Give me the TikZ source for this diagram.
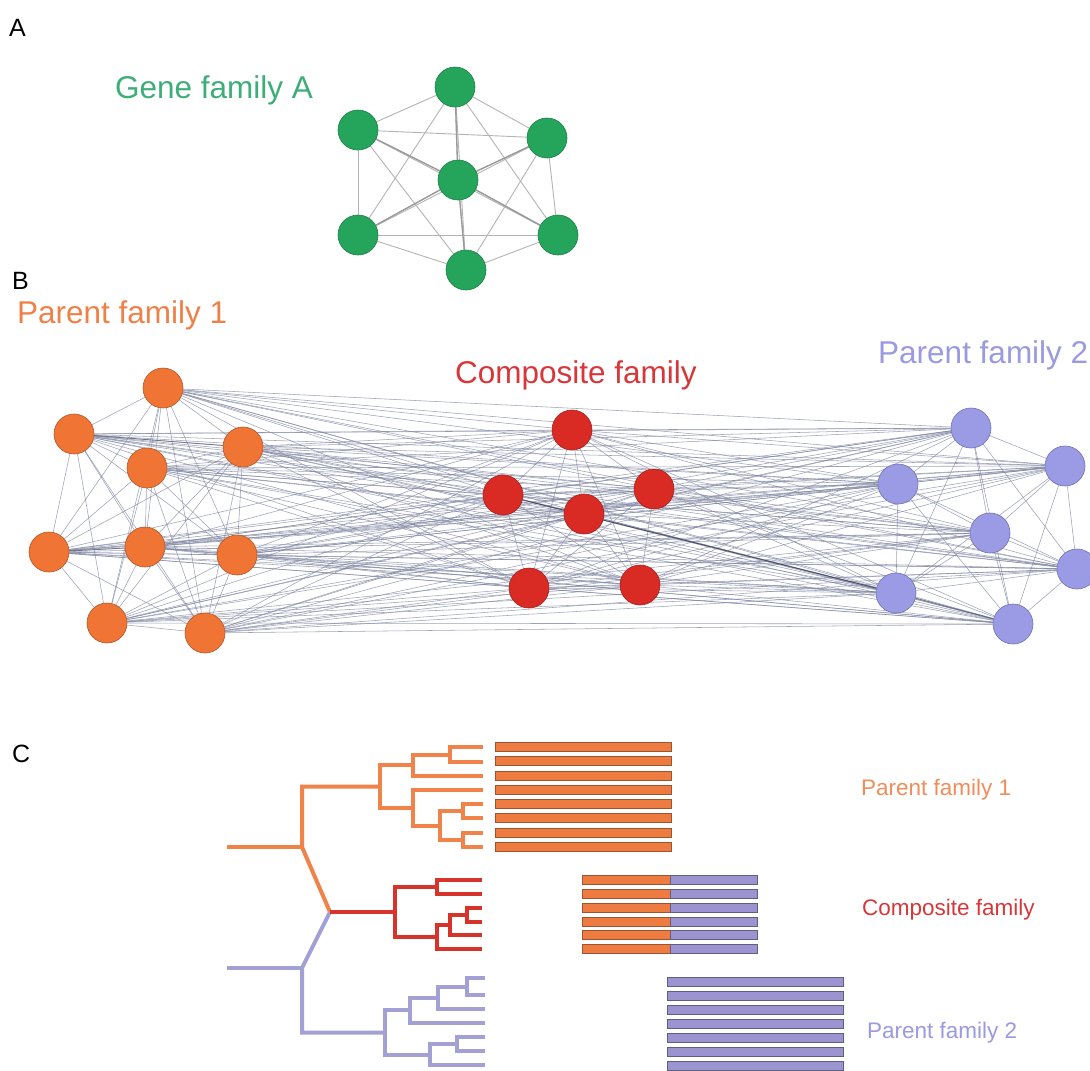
\documentclass[tikz,border=0pt]{standalone}
\usepackage{fontspec}
\setmainfont{Liberation Sans}
\definecolor{gfill}{HTML}{24A55B}
\definecolor{gline}{HTML}{1C7F46}
\definecolor{gtext}{HTML}{3DAE78}
\definecolor{ofill}{HTML}{F07534}
\definecolor{oline}{HTML}{B0552A}
\definecolor{otext}{HTML}{EE8048}
\definecolor{rfill}{HTML}{D92B23}
\definecolor{rline}{HTML}{A02020}
\definecolor{rtext}{HTML}{D8373A}
\definecolor{pfill}{HTML}{9B9BE5}
\definecolor{pline}{HTML}{7070B0}
\definecolor{ptext}{HTML}{9A9AE0}
\definecolor{aedgec}{HTML}{B4B4B4}
\definecolor{aedged}{HTML}{999999}
\definecolor{bedgec}{HTML}{7E84A0}
\definecolor{bedged}{HTML}{4A4E66}
\definecolor{otree}{HTML}{F0834A}
\definecolor{rtree}{HTML}{D6332B}
\definecolor{ptree}{HTML}{A3A0D6}
\definecolor{obar}{HTML}{EE7B40}
\definecolor{obarl}{HTML}{9C5530}
\definecolor{pbar}{HTML}{9C94D0}
\definecolor{pbarl}{HTML}{5F5F80}
\pgfdeclarelayer{back}
\pgfdeclarelayer{bg}
\pgfsetlayers{back,bg,main}
\begin{document}
\begin{tikzpicture}[x=1pt,y=-1pt,
  vert/.style={circle,minimum size=40pt,inner sep=0pt,line width=0.6pt},
  gnode/.style={vert,fill=gfill,draw=gline},
  onode/.style={vert,fill=ofill,draw=oline},
  rnode/.style={vert,fill=rfill,draw=rline},
  pnode/.style={vert,fill=pfill,draw=pline},
  aedge/.style={draw=aedgec,line width=0.9pt},
  aedgeb/.style={draw=aedged,line width=1.3pt},
  bedge/.style={draw=bedgec,line width=0.55pt,opacity=0.75},
  bedgeb/.style={draw=bedged,line width=0.9pt},
  panel/.style={anchor=base west,inner sep=0pt,font=\fontsize{25}{28}\selectfont},
  biglab/.style={anchor=base west,inner sep=0pt,font=\fontsize{31.5}{36}\selectfont},
  smalllab/.style={anchor=base west,inner sep=0pt,font=\fontsize{22.5}{26}\selectfont},
  tree/.style={line width=4pt,line join=miter},
  obarst/.style={fill=obar,draw=obarl,line width=0.8pt},
  pbarst/.style={fill=pbar,draw=pbarl,line width=0.8pt},
]
\useasboundingbox (0,0) rectangle (1090,1071);
\clip (0,0) rectangle (1090,1071);
\begin{pgfonlayer}{back}
\fill[white] (0,0) rectangle (1090,1071);
\end{pgfonlayer}

% ---------- Panel labels ----------
\node[panel] (pa) at (9,36) {A};
\node[panel] (pb) at (12,289) {B};
\node[panel] (pc) at (12,762) {C};

% ---------- Panel A ----------
\node[biglab,text=gtext] (tA) at (115,98) {Gene family A};
\node[gnode] (g1) at (455,87) {};
\node[gnode] (g2) at (358,130) {};
\node[gnode] (g3) at (547,138) {};
\node[gnode] (g4) at (458,180) {};
\node[gnode] (g5) at (358,235) {};
\node[gnode] (g6) at (558,235) {};
\node[gnode] (g7) at (466,270) {};
\begin{pgfonlayer}{bg}
\foreach \i in {1,...,6} {
  \pgfmathtruncatemacro\s{\i+1}
  \foreach \j in {\s,...,7} { \draw[aedge] (g\i) -- (g\j); }
}
\foreach \j in {1,2,3,5,6,7} { \draw[aedgeb] (g4) -- (g\j); }
\end{pgfonlayer}

% ---------- Panel B ----------
\node[biglab,text=otext] (tP1) at (17,323) {Parent family 1};
\node[biglab,text=rtext] (tC) at (455,383) {Composite family};
\node[biglab,text=ptext] (tP2) at (878,363) {Parent family 2};

\node[onode] (o1) at (163,388) {};
\node[onode] (o2) at (74,434) {};
\node[onode] (o3) at (243,447) {};
\node[onode] (o4) at (147,468) {};
\node[onode] (o5) at (49,552) {};
\node[onode] (o6) at (145,547) {};
\node[onode] (o7) at (237,555) {};
\node[onode] (o8) at (107,623) {};
\node[onode] (o9) at (205,633) {};

\node[rnode] (r1) at (572,430) {};
\node[rnode] (r2) at (503,495) {};
\node[rnode] (r3) at (654,489) {};
\node[rnode] (r4) at (584,514) {};
\node[rnode] (r5) at (529,588) {};
\node[rnode] (r6) at (640,585) {};

\node[pnode] (p1) at (971,428) {};
\node[pnode] (p2) at (1065,466) {};
\node[pnode] (p3) at (898,484) {};
\node[pnode] (p4) at (990,533) {};
\node[pnode] (p5) at (1077,569) {};
\node[pnode] (p6) at (896,593) {};
\node[pnode] (p7) at (1013,624) {};

\begin{pgfonlayer}{bg}
\foreach \i in {1,...,8} {
  \pgfmathtruncatemacro\s{\i+1}
  \foreach \j in {\s,...,9} { \draw[bedge] (o\i) -- (o\j); }
}
\foreach \i in {1,...,5} {
  \pgfmathtruncatemacro\s{\i+1}
  \foreach \j in {\s,...,6} { \draw[bedge] (r\i) -- (r\j); }
}
\foreach \i in {1,...,6} {
  \pgfmathtruncatemacro\s{\i+1}
  \foreach \j in {\s,...,7} { \draw[bedge] (p\i) -- (p\j); }
}
\foreach \i in {1,...,9} {
  \foreach \j in {1,...,6} { \draw[bedge] (o\i) -- (r\j); }
  \foreach \j in {1,...,7} { \draw[bedge] (o\i) -- (p\j); }
}
\foreach \i in {1,...,6} {
  \foreach \j in {1,...,7} { \draw[bedge] (r\i) -- (p\j); }
}
\draw[bedgeb] (r2) -- (p6);
\draw[bedgeb,opacity=0.6] (o5) -- (o6);
\draw[bedgeb,opacity=0.6] (o2) -- (o3);
\draw[bedgeb,opacity=0.6] (p6) -- (p7);
\end{pgfonlayer}

% ---------- Panel C : tree ----------
% orange parent family 1
\draw[tree,otree] (483,747) -- (450,747) -- (450,762) -- (483,762);
\draw[tree,otree] (450,754.5) -- (413,754.5) -- (413,776) -- (483,776);
\draw[tree,otree] (483,804) -- (463,804) -- (463,818) -- (483,818);
\draw[tree,otree] (483,833) -- (463,833) -- (463,847) -- (483,847);
\draw[tree,otree] (463,811) -- (440,811) -- (440,840) -- (463,840);
\draw[tree,otree] (483,790) -- (413,790) -- (413,825.5) -- (440,825.5);
\draw[tree,otree] (413,765.25) -- (380,765.25) -- (380,807.75) -- (413,807.75);
\draw[tree,otree] (380,786.5) -- (302,786.5) -- (302,847) -- (330,912);
\draw[tree,otree] (227,847) -- (302,847);
% purple parent family 2
\draw[tree,ptree] (485,978) -- (467,978) -- (467,995) -- (485,995);
\draw[tree,ptree] (467,986.5) -- (438,986.5) -- (438,1009) -- (485,1009);
\draw[tree,ptree] (438,997.75) -- (410,997.75) -- (410,1023) -- (485,1023);
\draw[tree,ptree] (485,1037) -- (457,1037) -- (457,1051) -- (485,1051);
\draw[tree,ptree] (457,1044) -- (430,1044) -- (430,1065) -- (485,1065);
\draw[tree,ptree] (410,1010.4) -- (385,1010.4) -- (385,1054.5) -- (430,1054.5);
\draw[tree,ptree] (385,1032.5) -- (302,1032.5) -- (302,968) -- (330,912);
\draw[tree,ptree] (227,968) -- (302,968);
% red composite family
\draw[tree,rtree] (482,880) -- (437,880) -- (437,894) -- (482,894);
\draw[tree,rtree] (482,908) -- (467,908) -- (467,922) -- (482,922);
\draw[tree,rtree] (467,915) -- (450,915) -- (450,935) -- (482,935);
\draw[tree,rtree] (450,925) -- (437,925) -- (437,949) -- (482,949);
\draw[tree,rtree] (437,887) -- (395,887) -- (395,937) -- (437,937);
\draw[tree,rtree] (330,912) -- (395,912);

% ---------- Panel C : bars ----------
\foreach \y in {747,761,776,790,804,818,833,847} {
  \draw[obarst] (495,\y-4.5) rectangle (671,\y+4.5);
}
\foreach \y in {880,894,908,922,935,949} {
  \draw[obarst] (582,\y-4.5) rectangle (670,\y+4.5);
  \draw[pbarst] (670,\y-4.5) rectangle (757,\y+4.5);
}
\foreach \y in {982,996,1010,1024,1038,1052,1066} {
  \draw[pbarst] (667,\y-4.5) rectangle (843,\y+4.5);
}

\node[smalllab,text=otext!90!white] (cP1) at (861,795) {Parent family 1};
\node[smalllab,text=rtext] (cC) at (862,915) {Composite family};
\node[smalllab,text=ptext] (cP2) at (867,1038) {Parent family 2};
\end{tikzpicture}
\end{document}
